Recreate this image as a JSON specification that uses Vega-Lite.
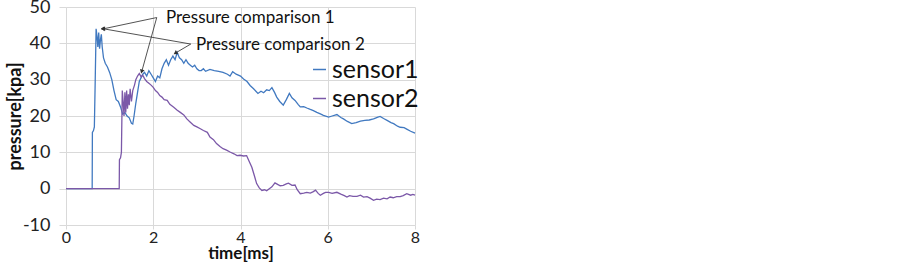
{
  "$schema": "https://vega.github.io/schema/vega-lite/v6.json",
  "autosize": "none",
  "width": 349,
  "height": 218,
  "padding": {"left": 66, "top": 7, "right": 488, "bottom": 37},
  "background": "white",
  "config": {
    "view": {"stroke": null},
    "font": "Lato",
    "axis": {
      "grid": true,
      "gridColor": "#d9d9d9",
      "gridWidth": 1,
      "domain": false,
      "tickColor": "#d9d9d9",
      "labelFont": "Lato",
      "labelFontSize": 18,
      "labelColor": "#222222",
      "labelOverlap": false,
      "labelBound": false,
      "labelFlush": false,
      "titleFont": "Lato",
      "titleFontSize": 18,
      "titleFontWeight": "bold",
      "titleColor": "#111111"
    },
    "legend": {"labelFontSize": 25, "labelFont": "Lato"}
  },
  "datasets": {
    "series": [
      {"sensor": "sensor1", "t": 0, "p": 0},
      {"sensor": "sensor1", "t": 0.6, "p": 0},
      {"sensor": "sensor1", "t": 0.605, "p": 15.5},
      {"sensor": "sensor1", "t": 0.63, "p": 16},
      {"sensor": "sensor1", "t": 0.65, "p": 17},
      {"sensor": "sensor1", "t": 0.67, "p": 30},
      {"sensor": "sensor1", "t": 0.69, "p": 44},
      {"sensor": "sensor1", "t": 0.71, "p": 42},
      {"sensor": "sensor1", "t": 0.73, "p": 39},
      {"sensor": "sensor1", "t": 0.75, "p": 43},
      {"sensor": "sensor1", "t": 0.77, "p": 38.5},
      {"sensor": "sensor1", "t": 0.79, "p": 41},
      {"sensor": "sensor1", "t": 0.81, "p": 42.5},
      {"sensor": "sensor1", "t": 0.83, "p": 39},
      {"sensor": "sensor1", "t": 0.86, "p": 36},
      {"sensor": "sensor1", "t": 0.9, "p": 34.5},
      {"sensor": "sensor1", "t": 0.95, "p": 33.5},
      {"sensor": "sensor1", "t": 1.0, "p": 32},
      {"sensor": "sensor1", "t": 1.05, "p": 30},
      {"sensor": "sensor1", "t": 1.1, "p": 27},
      {"sensor": "sensor1", "t": 1.15, "p": 24.5},
      {"sensor": "sensor1", "t": 1.2, "p": 24},
      {"sensor": "sensor1", "t": 1.25, "p": 22.5},
      {"sensor": "sensor1", "t": 1.3, "p": 20.5},
      {"sensor": "sensor1", "t": 1.35, "p": 21},
      {"sensor": "sensor1", "t": 1.4, "p": 20},
      {"sensor": "sensor1", "t": 1.45, "p": 19.5},
      {"sensor": "sensor1", "t": 1.5, "p": 18},
      {"sensor": "sensor1", "t": 1.53, "p": 17.8},
      {"sensor": "sensor1", "t": 1.56, "p": 20},
      {"sensor": "sensor1", "t": 1.6, "p": 23.5},
      {"sensor": "sensor1", "t": 1.64, "p": 26.5},
      {"sensor": "sensor1", "t": 1.68, "p": 29.5},
      {"sensor": "sensor1", "t": 1.72, "p": 30.5},
      {"sensor": "sensor1", "t": 1.76, "p": 31.5},
      {"sensor": "sensor1", "t": 1.8, "p": 32},
      {"sensor": "sensor1", "t": 1.85, "p": 31},
      {"sensor": "sensor1", "t": 1.9, "p": 32.5},
      {"sensor": "sensor1", "t": 1.95, "p": 31.5},
      {"sensor": "sensor1", "t": 2.0, "p": 30.5},
      {"sensor": "sensor1", "t": 2.05, "p": 29.5},
      {"sensor": "sensor1", "t": 2.1, "p": 31},
      {"sensor": "sensor1", "t": 2.15, "p": 30.5},
      {"sensor": "sensor1", "t": 2.2, "p": 33},
      {"sensor": "sensor1", "t": 2.25, "p": 34.5},
      {"sensor": "sensor1", "t": 2.3, "p": 35.5},
      {"sensor": "sensor1", "t": 2.35, "p": 34},
      {"sensor": "sensor1", "t": 2.4, "p": 35.5},
      {"sensor": "sensor1", "t": 2.45, "p": 36.5},
      {"sensor": "sensor1", "t": 2.5, "p": 35.5},
      {"sensor": "sensor1", "t": 2.55, "p": 37.5},
      {"sensor": "sensor1", "t": 2.6, "p": 36},
      {"sensor": "sensor1", "t": 2.65, "p": 35.5},
      {"sensor": "sensor1", "t": 2.7, "p": 34.5},
      {"sensor": "sensor1", "t": 2.75, "p": 35.5},
      {"sensor": "sensor1", "t": 2.8, "p": 34.5},
      {"sensor": "sensor1", "t": 2.85, "p": 34},
      {"sensor": "sensor1", "t": 2.9, "p": 33.5},
      {"sensor": "sensor1", "t": 2.95, "p": 34},
      {"sensor": "sensor1", "t": 3.0, "p": 33},
      {"sensor": "sensor1", "t": 3.05, "p": 32.5},
      {"sensor": "sensor1", "t": 3.1, "p": 32.5},
      {"sensor": "sensor1", "t": 3.15, "p": 33},
      {"sensor": "sensor1", "t": 3.2, "p": 32.3},
      {"sensor": "sensor1", "t": 3.3, "p": 32.8},
      {"sensor": "sensor1", "t": 3.4, "p": 32.5},
      {"sensor": "sensor1", "t": 3.5, "p": 32.3},
      {"sensor": "sensor1", "t": 3.6, "p": 32},
      {"sensor": "sensor1", "t": 3.7, "p": 31.5},
      {"sensor": "sensor1", "t": 3.76, "p": 31},
      {"sensor": "sensor1", "t": 3.82, "p": 32.2},
      {"sensor": "sensor1", "t": 3.9, "p": 31.5},
      {"sensor": "sensor1", "t": 4.0, "p": 31},
      {"sensor": "sensor1", "t": 4.07, "p": 30.2},
      {"sensor": "sensor1", "t": 4.15, "p": 29.5},
      {"sensor": "sensor1", "t": 4.22, "p": 28.4},
      {"sensor": "sensor1", "t": 4.3, "p": 27.5},
      {"sensor": "sensor1", "t": 4.4, "p": 26.2},
      {"sensor": "sensor1", "t": 4.47, "p": 26.8},
      {"sensor": "sensor1", "t": 4.53, "p": 26.4},
      {"sensor": "sensor1", "t": 4.6, "p": 27.2},
      {"sensor": "sensor1", "t": 4.66, "p": 27},
      {"sensor": "sensor1", "t": 4.72, "p": 27.8},
      {"sensor": "sensor1", "t": 4.78, "p": 26.5},
      {"sensor": "sensor1", "t": 4.83, "p": 25.2},
      {"sensor": "sensor1", "t": 4.9, "p": 24},
      {"sensor": "sensor1", "t": 4.98, "p": 23},
      {"sensor": "sensor1", "t": 5.05, "p": 24.5},
      {"sensor": "sensor1", "t": 5.12, "p": 26.2},
      {"sensor": "sensor1", "t": 5.18, "p": 25},
      {"sensor": "sensor1", "t": 5.25, "p": 24.3},
      {"sensor": "sensor1", "t": 5.32, "p": 23.2},
      {"sensor": "sensor1", "t": 5.37, "p": 22.5},
      {"sensor": "sensor1", "t": 5.45, "p": 22.6},
      {"sensor": "sensor1", "t": 5.52, "p": 22.2},
      {"sensor": "sensor1", "t": 5.6, "p": 21.8},
      {"sensor": "sensor1", "t": 5.67, "p": 21.5},
      {"sensor": "sensor1", "t": 5.75, "p": 21},
      {"sensor": "sensor1", "t": 5.83, "p": 20.6},
      {"sensor": "sensor1", "t": 5.9, "p": 20.2},
      {"sensor": "sensor1", "t": 6.02, "p": 19.7},
      {"sensor": "sensor1", "t": 6.1, "p": 20},
      {"sensor": "sensor1", "t": 6.21, "p": 20.4},
      {"sensor": "sensor1", "t": 6.3, "p": 19.6},
      {"sensor": "sensor1", "t": 6.36, "p": 19.2},
      {"sensor": "sensor1", "t": 6.45, "p": 18.5},
      {"sensor": "sensor1", "t": 6.55, "p": 17.9},
      {"sensor": "sensor1", "t": 6.65, "p": 18.2},
      {"sensor": "sensor1", "t": 6.75, "p": 18.6},
      {"sensor": "sensor1", "t": 6.85, "p": 18.8},
      {"sensor": "sensor1", "t": 6.95, "p": 18.9},
      {"sensor": "sensor1", "t": 7.05, "p": 19.2},
      {"sensor": "sensor1", "t": 7.15, "p": 19.7},
      {"sensor": "sensor1", "t": 7.2, "p": 19.9},
      {"sensor": "sensor1", "t": 7.28, "p": 19.3},
      {"sensor": "sensor1", "t": 7.36, "p": 18.8},
      {"sensor": "sensor1", "t": 7.45, "p": 18.2},
      {"sensor": "sensor1", "t": 7.51, "p": 17.9},
      {"sensor": "sensor1", "t": 7.6, "p": 17.2},
      {"sensor": "sensor1", "t": 7.66, "p": 16.9},
      {"sensor": "sensor1", "t": 7.75, "p": 16.8},
      {"sensor": "sensor1", "t": 7.81, "p": 16.4},
      {"sensor": "sensor1", "t": 7.9, "p": 15.8},
      {"sensor": "sensor1", "t": 8.0, "p": 15.3},
      {"sensor": "sensor2", "t": 0, "p": 0},
      {"sensor": "sensor2", "t": 1.22, "p": 0},
      {"sensor": "sensor2", "t": 1.225, "p": 8},
      {"sensor": "sensor2", "t": 1.25, "p": 8.5},
      {"sensor": "sensor2", "t": 1.27, "p": 10},
      {"sensor": "sensor2", "t": 1.29, "p": 27},
      {"sensor": "sensor2", "t": 1.31, "p": 24},
      {"sensor": "sensor2", "t": 1.33, "p": 20},
      {"sensor": "sensor2", "t": 1.35, "p": 26.5},
      {"sensor": "sensor2", "t": 1.37, "p": 21},
      {"sensor": "sensor2", "t": 1.39, "p": 27},
      {"sensor": "sensor2", "t": 1.41, "p": 22},
      {"sensor": "sensor2", "t": 1.43, "p": 26},
      {"sensor": "sensor2", "t": 1.45, "p": 23},
      {"sensor": "sensor2", "t": 1.47, "p": 27.5},
      {"sensor": "sensor2", "t": 1.5, "p": 24},
      {"sensor": "sensor2", "t": 1.53, "p": 27},
      {"sensor": "sensor2", "t": 1.57, "p": 28.5},
      {"sensor": "sensor2", "t": 1.6, "p": 30},
      {"sensor": "sensor2", "t": 1.64, "p": 31},
      {"sensor": "sensor2", "t": 1.68, "p": 31.7},
      {"sensor": "sensor2", "t": 1.72, "p": 30.8},
      {"sensor": "sensor2", "t": 1.76, "p": 31.2},
      {"sensor": "sensor2", "t": 1.8, "p": 30.3},
      {"sensor": "sensor2", "t": 1.85, "p": 29.5},
      {"sensor": "sensor2", "t": 1.9, "p": 29},
      {"sensor": "sensor2", "t": 1.95, "p": 28.5},
      {"sensor": "sensor2", "t": 2.0, "p": 27.9},
      {"sensor": "sensor2", "t": 2.05, "p": 27},
      {"sensor": "sensor2", "t": 2.1, "p": 26.5},
      {"sensor": "sensor2", "t": 2.15, "p": 25.6},
      {"sensor": "sensor2", "t": 2.2, "p": 25.2},
      {"sensor": "sensor2", "t": 2.25, "p": 24.5},
      {"sensor": "sensor2", "t": 2.32, "p": 24.3},
      {"sensor": "sensor2", "t": 2.38, "p": 23.2},
      {"sensor": "sensor2", "t": 2.47, "p": 22.4},
      {"sensor": "sensor2", "t": 2.55, "p": 21.6},
      {"sensor": "sensor2", "t": 2.62, "p": 21},
      {"sensor": "sensor2", "t": 2.7, "p": 20.3},
      {"sensor": "sensor2", "t": 2.77, "p": 19.2},
      {"sensor": "sensor2", "t": 2.85, "p": 18.3},
      {"sensor": "sensor2", "t": 2.93, "p": 17.4},
      {"sensor": "sensor2", "t": 3.0, "p": 17},
      {"sensor": "sensor2", "t": 3.08, "p": 16.5},
      {"sensor": "sensor2", "t": 3.15, "p": 16},
      {"sensor": "sensor2", "t": 3.24, "p": 15.5},
      {"sensor": "sensor2", "t": 3.3, "p": 14.2},
      {"sensor": "sensor2", "t": 3.38, "p": 13.5},
      {"sensor": "sensor2", "t": 3.45, "p": 12.4},
      {"sensor": "sensor2", "t": 3.53, "p": 11.6},
      {"sensor": "sensor2", "t": 3.6, "p": 11},
      {"sensor": "sensor2", "t": 3.68, "p": 10.6},
      {"sensor": "sensor2", "t": 3.76, "p": 10.1},
      {"sensor": "sensor2", "t": 3.85, "p": 9.6},
      {"sensor": "sensor2", "t": 3.92, "p": 9.1},
      {"sensor": "sensor2", "t": 3.99, "p": 9.2},
      {"sensor": "sensor2", "t": 4.07, "p": 9.0},
      {"sensor": "sensor2", "t": 4.14, "p": 9.1},
      {"sensor": "sensor2", "t": 4.2, "p": 7.5},
      {"sensor": "sensor2", "t": 4.26, "p": 5.9},
      {"sensor": "sensor2", "t": 4.32, "p": 3.5},
      {"sensor": "sensor2", "t": 4.37, "p": 1.4},
      {"sensor": "sensor2", "t": 4.43, "p": 0.2},
      {"sensor": "sensor2", "t": 4.49, "p": -0.5},
      {"sensor": "sensor2", "t": 4.55, "p": -0.3},
      {"sensor": "sensor2", "t": 4.6, "p": -0.6},
      {"sensor": "sensor2", "t": 4.66, "p": 0},
      {"sensor": "sensor2", "t": 4.72, "p": 0.5},
      {"sensor": "sensor2", "t": 4.79, "p": 1.6},
      {"sensor": "sensor2", "t": 4.85, "p": 1.2},
      {"sensor": "sensor2", "t": 4.91, "p": 0.8},
      {"sensor": "sensor2", "t": 4.98, "p": 0.9},
      {"sensor": "sensor2", "t": 5.05, "p": 1.3},
      {"sensor": "sensor2", "t": 5.1, "p": 1.5},
      {"sensor": "sensor2", "t": 5.18, "p": 0.9},
      {"sensor": "sensor2", "t": 5.25, "p": 1.0},
      {"sensor": "sensor2", "t": 5.3, "p": -0.3},
      {"sensor": "sensor2", "t": 5.37, "p": -1.4},
      {"sensor": "sensor2", "t": 5.45, "p": -1.2},
      {"sensor": "sensor2", "t": 5.52, "p": -1.0},
      {"sensor": "sensor2", "t": 5.6, "p": -1.2},
      {"sensor": "sensor2", "t": 5.67, "p": -0.8},
      {"sensor": "sensor2", "t": 5.72, "p": -0.4},
      {"sensor": "sensor2", "t": 5.78, "p": -1.3},
      {"sensor": "sensor2", "t": 5.83, "p": -1.8},
      {"sensor": "sensor2", "t": 5.9, "p": -1.3},
      {"sensor": "sensor2", "t": 5.95, "p": -1.0},
      {"sensor": "sensor2", "t": 6.02, "p": -1.0},
      {"sensor": "sensor2", "t": 6.1, "p": -1.3},
      {"sensor": "sensor2", "t": 6.21, "p": -1.0},
      {"sensor": "sensor2", "t": 6.3, "p": -1.5},
      {"sensor": "sensor2", "t": 6.38, "p": -1.9},
      {"sensor": "sensor2", "t": 6.44, "p": -2.3},
      {"sensor": "sensor2", "t": 6.5, "p": -1.9},
      {"sensor": "sensor2", "t": 6.58, "p": -2.1},
      {"sensor": "sensor2", "t": 6.67, "p": -2.1},
      {"sensor": "sensor2", "t": 6.75, "p": -1.8},
      {"sensor": "sensor2", "t": 6.82, "p": -2.3},
      {"sensor": "sensor2", "t": 6.9, "p": -2.2},
      {"sensor": "sensor2", "t": 6.97, "p": -2.6},
      {"sensor": "sensor2", "t": 7.05, "p": -3.2},
      {"sensor": "sensor2", "t": 7.12, "p": -2.9},
      {"sensor": "sensor2", "t": 7.2, "p": -3.0},
      {"sensor": "sensor2", "t": 7.28, "p": -2.6},
      {"sensor": "sensor2", "t": 7.36, "p": -2.8},
      {"sensor": "sensor2", "t": 7.43, "p": -2.3},
      {"sensor": "sensor2", "t": 7.5, "p": -2.5},
      {"sensor": "sensor2", "t": 7.58, "p": -2.2},
      {"sensor": "sensor2", "t": 7.66, "p": -2.2},
      {"sensor": "sensor2", "t": 7.73, "p": -1.9},
      {"sensor": "sensor2", "t": 7.81, "p": -1.4},
      {"sensor": "sensor2", "t": 7.9, "p": -1.8},
      {"sensor": "sensor2", "t": 7.95, "p": -1.6},
      {"sensor": "sensor2", "t": 8.0, "p": -1.8}
    ],
    "arrows": [
      {"id": "c1a", "t1": 2.08, "p1": 47.1, "t2": 0.86, "p2": 44.0},
      {"id": "c1b", "t1": 2.08, "p1": 47.1, "t2": 1.74, "p2": 32.4},
      {"id": "c2a", "t1": 2.86, "p1": 39.8, "t2": 0.86, "p2": 44.0},
      {"id": "c2b", "t1": 2.86, "p1": 39.8, "t2": 2.52, "p2": 37.4}
    ],
    "labels": [
      {"t": 2.29, "p": 47.1, "text": "Pressure comparison 1"},
      {"t": 2.98, "p": 39.6, "text": "Pressure comparison 2"}
    ]
  },
  "layer": [
    {
      "data": {"name": "series"},
      "mark": {"type": "line", "strokeWidth": 1.3, "interpolate": "linear"},
      "encoding": {
        "x": {
          "field": "t", "type": "quantitative",
          "scale": {"domain": [0, 8], "nice": false},
          "axis": {
            "values": [0, 2, 4, 6, 8],
            "tickCount": 10,
            "title": "time[ms]",
            "tickSize": 4,
            "labelPadding": 0,
            "labelFontSize": 16,
            "labelOverlap": false,
            "titleFontSize": 17,
            "titleX": 174.5,
            "titleY": 28.5,
            "titleBaseline": "middle",
            "titleAlign": "center"
          }
        },
        "y": {
          "field": "p", "type": "quantitative",
          "scale": {"domain": [-10, 50], "nice": false},
          "axis": {
            "values": [-10, 0, 10, 20, 30, 40, 50],
            "tickCount": 10,
            "labelExpr": "'' + datum.value",
            "labelOverlap": false,
            "labelBound": false,
            "labelFlush": false,
            "title": "pressure[kpa]",
            "tickSize": 7,
            "labelPadding": 9,
            "titleX": -51,
            "titleY": 109,
            "titleAngle": -90,
            "titleBaseline": "middle",
            "titleAlign": "center"
          }
        },
        "color": {
          "field": "sensor", "type": "nominal",
          "scale": {"domain": ["sensor1", "sensor2"], "range": ["#4179c0", "#7b58a8"]},
          "legend": {
            "title": null,
            "orient": "none",
            "legendX": 241,
            "legendY": 50,
            "symbolType": "stroke",
            "symbolSize": 169,
            "symbolStrokeWidth": 1.5,
            "labelFont": "Lato",
            "labelFontSize": 25,
            "labelColor": "#111111",
            "labelOffset": 0,
            "rowPadding": 3
          }
        }
      }
    },
    {
      "data": {"name": "arrows"},
      "mark": {"type": "rule", "color": "#404040", "strokeWidth": 0.9},
      "encoding": {
        "x": {"field": "t1", "type": "quantitative"},
        "y": {"field": "p1", "type": "quantitative"},
        "x2": {"field": "t2"},
        "y2": {"field": "p2"}
      }
    },
    {
      "data": {"name": "arrows"},
      "transform": [{"filter": "datum.id === 'c1a'"}],
      "mark": {"type": "point", "shape": "triangle", "filled": true, "color": "#303030", "size": 22, "angle": 258, "opacity": 1},
      "encoding": {"x": {"field": "t2", "type": "quantitative"}, "y": {"field": "p2", "type": "quantitative"}}
    },
    {
      "data": {"name": "arrows"},
      "transform": [{"filter": "datum.id === 'c1b'"}],
      "mark": {"type": "point", "shape": "triangle", "filled": true, "color": "#303030", "size": 22, "angle": 196, "opacity": 1},
      "encoding": {"x": {"field": "t2", "type": "quantitative"}, "y": {"field": "p2", "type": "quantitative"}}
    },
    {
      "data": {"name": "arrows"},
      "transform": [{"filter": "datum.id === 'c2a'"}],
      "mark": {"type": "point", "shape": "triangle", "filled": true, "color": "#303030", "size": 22, "angle": 280, "opacity": 1},
      "encoding": {"x": {"field": "t2", "type": "quantitative"}, "y": {"field": "p2", "type": "quantitative"}}
    },
    {
      "data": {"name": "arrows"},
      "transform": [{"filter": "datum.id === 'c2b'"}],
      "mark": {"type": "point", "shape": "triangle", "filled": true, "color": "#303030", "size": 22, "angle": 237, "opacity": 1},
      "encoding": {"x": {"field": "t2", "type": "quantitative"}, "y": {"field": "p2", "type": "quantitative"}}
    },
    {
      "data": {"name": "labels"},
      "mark": {"type": "text", "align": "left", "baseline": "middle", "font": "Lato", "fontSize": 17, "color": "#111111"},
      "encoding": {
        "x": {"field": "t", "type": "quantitative"},
        "y": {"field": "p", "type": "quantitative"},
        "text": {"field": "text"}
      }
    }
  ]
}
